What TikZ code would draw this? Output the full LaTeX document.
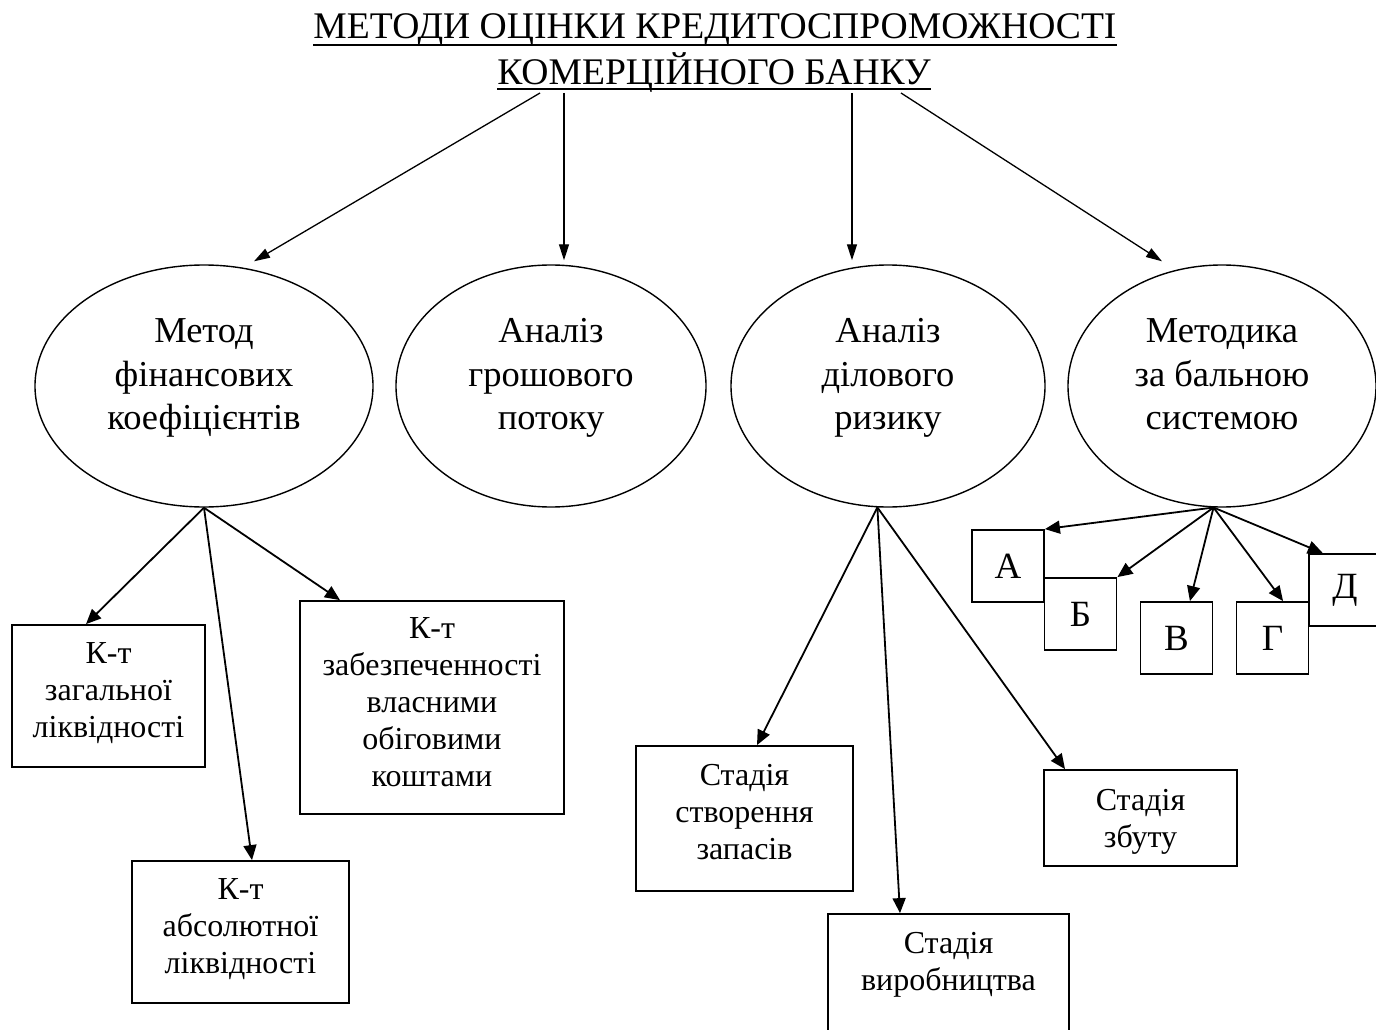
\documentclass[tikz,border=0pt]{standalone}
\usepackage{fontspec}
\setmainfont{Liberation Serif}
\usetikzlibrary{shapes.geometric,arrows.meta,calc}
\newcommand{\eTop}{\rule{0pt}{35pt}}
\newcommand{\eBot}{\rule[-35pt]{0pt}{35pt}}
\newcommand{\bxt}[4]{\parbox[c][#2][t]{#1}{\fontsize{32}{37}\selectfont\centering\rule{0pt}{#3}#4}}
\tikzset{
  ell/.style={ellipse, draw, line width=1.4pt, inner sep=0pt, align=center,
    font=\fontsize{36.5}{43.5}\selectfont, minimum height=242pt},
  bx/.style={rectangle, draw, line width=1.8pt, inner sep=0pt},
  lbx/.style={rectangle, draw, line width=1.8pt, inner sep=0pt, minimum size=72pt,
    font=\fontsize{37}{44}\selectfont},
  ttl/.style={anchor=base, inner sep=0pt, font=\fontsize{37.6}{46}\selectfont},
  uln/.style={line width=2pt},
  arr/.style={-{Triangle[length=15pt,width=13pt]}, line width=1.8pt},
  tarr/.style={-{Triangle[length=16pt,width=10pt]}, line width=1.3pt}
}
\begin{document}
\begin{tikzpicture}[x=1pt,y=-1pt]
\path[use as bounding box, clip] (0,0) rectangle (1376,1030);
\fill[white] (0,0) rectangle (1376,1030);
% title
\node[ttl] (t1) at (715,39) {МЕТОДИ ОЦІНКИ КРЕДИТОСПРОМОЖНОСТІ};
\node[ttl] (t2) at (714,85) {КОМЕРЦІЙНОГО БАНКУ};
\draw[uln] ($(t1.base west)+(0,6)$) -- ($(t1.base east)+(0,6)$);
\draw[uln] ($(t2.base west)+(0,4)$) -- ($(t2.base east)+(0,4)$);
% ellipses
\node[ell, minimum width=338pt] (e1) at (204,386) {\eTop Метод\\фінансових\\коефіцієнтів\eBot};
\node[ell, minimum width=310pt] (e2) at (551,386) {\eTop Аналіз\\грошового\\потоку\eBot};
\node[ell, minimum width=314pt] (e3) at (888,386) {\eTop Аналіз\\ділового\\ризику\eBot};
\node[ell, minimum width=308pt] (e4) at (1222,386) {\eTop Методика\\за бальною\\системою\eBot};
% boxes
\node[bx] (zag) at (108.5,696) {\bxt{193pt}{142pt}{38pt}{К-т\\загальної\\ліквідності}};
\node[bx] (kabs) at (240.5,932) {\bxt{217pt}{142pt}{38pt}{К-т\\абсолютної\\ліквідності}};
\node[bx] (zab) at (432,707.5) {\bxt{264pt}{213pt}{37pt}{К-т\\забезпеченності\\власними\\обіговими\\коштами}};
\node[bx] (stv) at (744.5,818.5) {\bxt{217pt}{145pt}{39pt}{Стадія\\створення\\запасів}};
\node[bx] (vyr) at (948.5,979) {\bxt{241pt}{130pt}{39pt}{Стадія\\виробництва}};
\node[bx] (zbu) at (1140.5,818) {\bxt{193pt}{96pt}{40pt}{Стадія\\збуту}};
\node[lbx] (la) at (1008,566) {А};
\node[lbx] (lb) at (1080.5,614) {Б};
\node[lbx] (lc) at (1176.5,638) {В};
\node[lbx] (ld) at (1272.5,638) {Г};
\node[lbx] (le) at (1345,590) {Д};
% title arrows
\draw[tarr] ($(t2.base)+(-174,8)$) -- ($(e1.north)+(50,-3)$);
\draw[tarr] ($(t2.base)+(-150,8)$) -- ($(e2.north)+(13,-4)$);
\draw[tarr] ($(t2.base)+(138,8)$) -- ($(e3.north)+(-36,-4)$);
\draw[tarr] ($(t2.base)+(187,8)$) -- ($(e4.north)+(-60,-3)$);
% from e1
\draw[arr] (e1.south) -- ($(zag.north)+(-22.5,0)$);
\draw[arr] (e1.south) -- ($(kabs.north)+(11.5,0)$);
\draw[arr] (e1.south) -- ($(zab.north)+(-92,0)$);
% from e3
\draw[arr] (e3.265) -- ($(stv.north)+(12.5,0)$);
\draw[arr] (e3.265) -- ($(vyr.north)+(-48.5,0)$);
\draw[arr] (e3.265) -- ($(zbu.north)+(-75.5,0)$);
% from e4
\draw[arr] (e4.266) -- (la.north east);
\draw[arr] (e4.266) -- (lb.north east);
\draw[arr] (e4.266) -- (lc.70);
\draw[arr] (e4.266) -- (ld.74);
\draw[arr] (e4.266) -- (le.121);
\end{tikzpicture}
\end{document}
